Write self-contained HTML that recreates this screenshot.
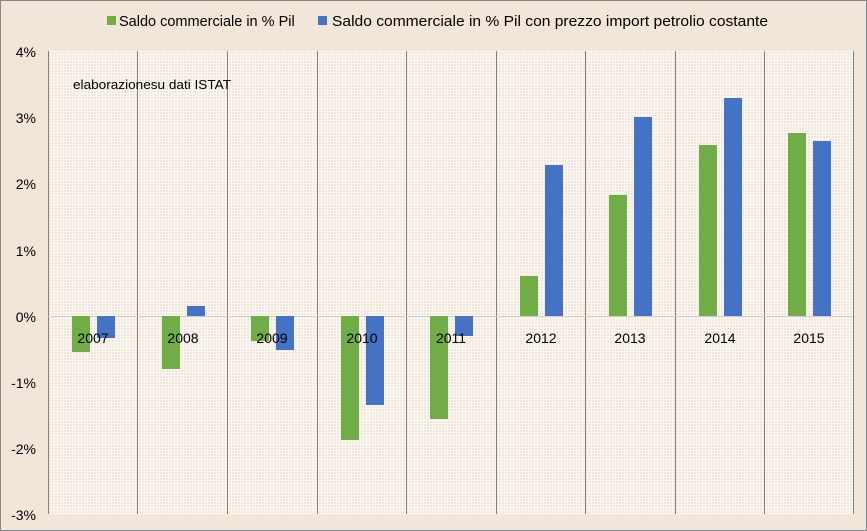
<!DOCTYPE html>
<html><head><meta charset="utf-8"><style>
body{margin:0;width:867px;height:531px;overflow:hidden;background:#f2e6d9;font-family:"Liberation Sans",sans-serif;}
</style></head><body>
<svg width="867" height="531" xmlns="http://www.w3.org/2000/svg" style="position:absolute;left:0;top:0">
<defs>
<pattern id="g" width="3" height="3" patternUnits="userSpaceOnUse">
<rect width="3" height="3" fill="#f0e6da"/>
<rect x="0" y="0" width="3" height="1" fill="#fbf8f4"/>
<rect x="0" y="0" width="1" height="3" fill="#fbf8f4"/>
</pattern>
</defs>
<rect x="0.5" y="0.5" width="866" height="530" fill="#f2e6d9" stroke="#888"/>
<rect x="48" y="51" width="805" height="463" fill="url(#g)"/>
<g stroke="#808080" stroke-width="1">
<line x1="48.5" y1="51" x2="48.5" y2="514"/>
<line x1="137.5" y1="51" x2="137.5" y2="514"/>
<line x1="227.5" y1="51" x2="227.5" y2="514"/>
<line x1="317.5" y1="51" x2="317.5" y2="514"/>
<line x1="406.5" y1="51" x2="406.5" y2="514"/>
<line x1="496.5" y1="51" x2="496.5" y2="514"/>
<line x1="585.5" y1="51" x2="585.5" y2="514"/>
<line x1="675.5" y1="51" x2="675.5" y2="514"/>
<line x1="764.5" y1="51" x2="764.5" y2="514"/>
<line x1="853.5" y1="51" x2="853.5" y2="514"/>
</g>
<line x1="48" y1="316.5" x2="853" y2="316.5" stroke="#d0d0d0"/>
<g fill="#70ad47">
<rect x="72" y="316" width="18" height="36"/>
<rect x="162" y="316" width="18" height="53"/>
<rect x="251" y="316" width="18" height="25"/>
<rect x="341" y="316" width="18" height="124"/>
<rect x="430" y="316" width="18" height="103"/>
<rect x="520" y="276" width="18" height="40"/>
<rect x="609" y="195" width="18" height="121"/>
<rect x="699" y="145" width="18" height="171"/>
<rect x="788" y="133" width="18" height="183"/>
</g>
<g fill="#4472c4">
<rect x="97" y="316" width="18" height="22"/>
<rect x="187" y="306" width="18" height="10"/>
<rect x="276" y="316" width="18" height="34"/>
<rect x="366" y="316" width="18" height="89"/>
<rect x="455" y="316" width="18" height="20"/>
<rect x="545" y="165" width="18" height="151"/>
<rect x="634" y="117" width="18" height="199"/>
<rect x="724" y="98" width="18" height="218"/>
<rect x="813" y="141" width="18" height="175"/>
</g>
<g font-size="14" fill="#000" text-anchor="middle">
<text x="93" y="343">2007</text><text x="183" y="343">2008</text><text x="272" y="343">2009</text>
<text x="362" y="343">2010</text><text x="451" y="343">2011</text><text x="541" y="343">2012</text>
<text x="630" y="343">2013</text><text x="720" y="343">2014</text><text x="809" y="343">2015</text>
</g>
<g font-size="14" fill="#000" text-anchor="end">
<text x="36" y="57">4%</text><text x="36" y="123">3%</text><text x="36" y="189">2%</text>
<text x="36" y="256">1%</text><text x="36" y="322">0%</text><text x="36" y="388">-1%</text>
<text x="36" y="454">-2%</text><text x="36" y="520">-3%</text>
</g>
<text x="73" y="89" font-size="13" fill="#000" textLength="158" lengthAdjust="spacingAndGlyphs">elaborazionesu dati ISTAT</text>
<rect x="107" y="16" width="9" height="9" fill="#70ad47"/>
<text x="119" y="26" font-size="14.5">Saldo commerciale in % Pil</text>
<rect x="318" y="16" width="9" height="9" fill="#4472c4"/>
<text x="332" y="26" font-size="15" textLength="436" lengthAdjust="spacingAndGlyphs">Saldo commerciale in % Pil con prezzo import petrolio costante</text>
</svg>
</body></html>
